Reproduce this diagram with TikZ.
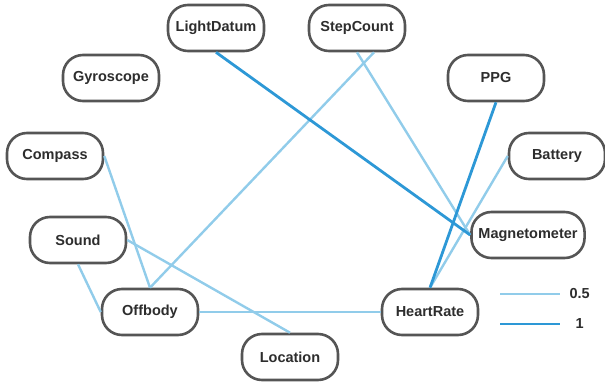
\documentclass[tikz,border=0pt]{standalone}
\usepackage{fontspec}
\setmainfont{Liberation Sans}
\usepackage{tikz}
\usetikzlibrary{positioning, calc}

\begin{document}
\begin{tikzpicture}[
    x=1pt, y=-1pt,
    font=\bfseries\fontsize{14.5}{16}\selectfont,
    sensor/.style={
        rectangle, rounded corners=20pt, draw=nodegrey, fill=white,
        minimum width=96pt, minimum height=46pt,
        inner xsep=7pt, line width=2.6pt, text=textgrey
    },
    weak/.style={line width=2.4pt, draw=lightedge},
    strong/.style={line width=2.8pt, draw=darkedge},
    legtext/.style={text=textgrey, anchor=center},
]

\definecolor{nodegrey}{RGB}{85,85,85}
\definecolor{textgrey}{RGB}{45,45,45}
\definecolor{lightedge}{RGB}{145,204,234}
\definecolor{darkedge}{RGB}{45,152,214}

\useasboundingbox (0,0) rectangle (605,383);

% ============================================================
% Sensor nodes
% ============================================================

\node[sensor] (light)   at (216,28)  {LightDatum};
\node[sensor] (step)    at (357,28)  {StepCount};
\node[sensor] (gyro)    at (111,78)  {Gyroscope};
\node[sensor] (ppg)     at (496,78)  {PPG};
\node[sensor] (compass) at (55,156)  {Compass};
\node[sensor] (battery) at (557,156) {Battery};
\node[sensor] (mag)     at (528,235) {Magnetometer};
\node[sensor] (sound)   at (78,240)  {Sound};
\node[sensor] (offbody) at (150,312) {Offbody};
\node[sensor] (hr)      at (430,312) {HeartRate};
\node[sensor] (loc)     at (290,357) {Location};

% ============================================================
% Edges
% ============================================================

% weight 0.5
\draw[weak] (compass.east) -- (offbody.north);
\draw[weak] (step.-55) -- (offbody.north);
\draw[weak] (step.south) -- (mag.west);
\draw[weak] (battery.west) -- (hr.north);
\draw[weak] (sound.south) -- (offbody.west);
\draw[weak] (sound.east) -- (loc.north);
\draw[weak] (offbody.east) -- (hr.west);

% weight 1
\draw[strong] (light.south) -- (mag.west);
\draw[strong] (ppg.south) -- (hr.north);

% Legend
\coordinate (lw1) at (500,294);
\coordinate (lw2) at (560,294);
\coordinate (ls1) at (500,324);
\coordinate (ls2) at (560,324);
\draw[weak] (lw1) -- (lw2);
\draw[strong] (ls1) -- (ls2);
\node[legtext, right=6pt of lw2] (lwt) {0.5};
\node[legtext] (lst) at (lwt |- ls2) {1};

\end{tikzpicture}
\end{document}
